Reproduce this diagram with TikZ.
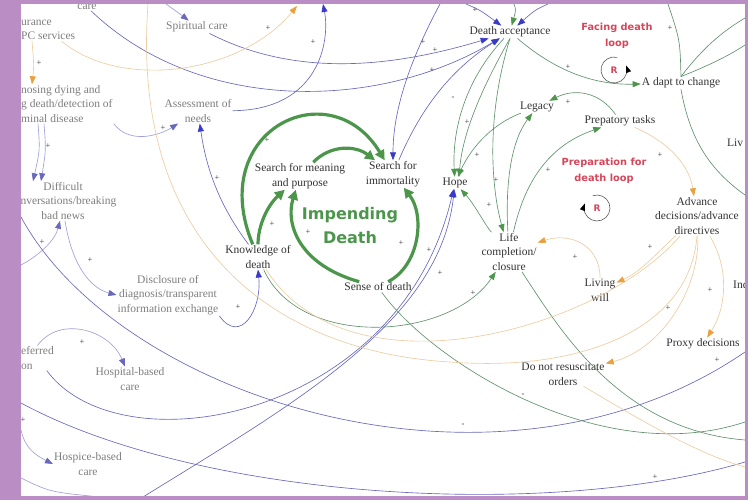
\documentclass[tikz,border=0pt]{standalone}
\usepackage{fontspec}
\setmainfont{Liberation Serif}
\newfontfamily\loopfont{DejaVu Sans}
\usepackage{xcolor}
\usetikzlibrary{arrows.meta}

\definecolor{framepurple}{RGB}{186,142,196}
\definecolor{loopgreen}{RGB}{76,150,76}
\definecolor{lgreen}{RGB}{96,146,108}
\definecolor{lblue}{RGB}{104,104,190}
\definecolor{fblue}{RGB}{160,160,218}
\definecolor{hblue}{RGB}{58,58,200}
\definecolor{orng}{RGB}{232,160,64}
\definecolor{ftan}{RGB}{236,204,160}
\definecolor{loopred}{RGB}{214,70,90}
\definecolor{txt}{RGB}{50,50,50}
\definecolor{ftxt}{RGB}{125,125,125}

\begin{document}
\begin{tikzpicture}[x=1pt,y=-1pt,
  lbl/.style={font=\fontsize{11.5}{14.5}\selectfont, text=txt, align=center, inner sep=1pt},
  flbl/.style={lbl, text=ftxt},
  loopl/.style={font=\loopfont\bfseries\fontsize{9.8}{15.5}\selectfont, text=loopred, align=center},
  impf/.style={font=\loopfont\bfseries\fontsize{16}{24}\selectfont, text=loopgreen, align=center},
  pm/.style={font=\fontsize{8.5}{8.5}\selectfont, text=black!80, inner sep=0pt},
  loopa/.style={draw=loopgreen, line width=3.2pt, -{Triangle[length=10pt,width=10pt]}},
  bl/.style={draw=lblue, line width=0.65pt, -{Triangle[length=8pt,width=6pt,color=hblue]}},
  blf/.style={draw=fblue, line width=0.65pt, -{Triangle[length=8pt,width=6pt,color=lblue]}},
  gr/.style={draw=lgreen, line width=0.65pt, -{Triangle[length=8pt,width=6pt,color=loopgreen]}},
  og/.style={draw=ftan, line width=0.65pt, -{Triangle[length=8pt,width=6pt,color=orng]}},
  ring/.style={draw=black!65, line width=0.6pt, -{Triangle[length=7pt,width=5pt,black]}}
]
\useasboundingbox (0,0) rectangle (748,500);

% nodes
\node[flbl] (careTop) at (87,7) {care};
\node[flbl,anchor=west,align=left] (insur) at (20,30) {urance\\PC services};
\node[flbl,anchor=west,align=left] (diag) at (20,104) {nosing dying and\\g death/detection of\\minal disease};
\node[flbl] (spirit) at (197,27) {Spiritual care};
\node[flbl] (assess) at (198,111) {Assessment of\\needs};
\node[flbl] (diffic) at (63,201) {Difficult\\conversations/breaking\\bad news};
\node[flbl] (disclose) at (168,295) {Disclosure of\\diagnosis/transparent\\information exchange};
\node[lbl] (knowl) at (258,257) {Knowledge of\\death};
\node[lbl] (smean) at (300,176) {Search for meaning\\and purpose};
\node[lbl] (simm) at (393,174) {Search for\\immortality};
\node[impf] (impend) at (350,226) {Impending\\Death};
\node[lbl] (sense) at (378,287) {Sense of death};
\node[lbl] (hope) at (455,183) {Hope};
\node[lbl] (deathacc) at (510,32) {Death acceptance};
\node[loopl] (facing) at (617,36) {Facing death\\loop};
\node[lbl] (adapt) at (681,83) {A dapt to change};
\node[lbl] (legacy) at (537,107) {Legacy};
\node[lbl] (prep) at (620,121) {Prepatory tasks};
\node[loopl] (prepl) at (604,171) {Preparation for\\death loop};
\node[lbl,anchor=west] (liv) at (726,143) {Liv};
\node[lbl] (advance) at (697,216) {Advance\\decisions/advance\\directives};
\node[lbl] (lifecomp) at (509,252) {Life\\completion/\\closure};
\node[lbl] (living) at (600,290) {Living\\will};
\node[lbl,anchor=west] (ind) at (732,285) {Ind};
\node[lbl] (proxy) at (703,344) {Proxy decisions};
\node[lbl] (dnr) at (563,374) {Do not resuscitate\\orders};
\node[flbl,anchor=west,align=left] (referred) at (20,358) {eferred\\on};
\node[flbl] (hospital) at (130,379) {Hospital-based\\care};
\node[flbl] (hospice) at (88,464) {Hospice-based\\care};

% free ends at the frame
\coordinate (spTop) at (166,4);
\coordinate (trialTop) at (323,4);
\coordinate (trialTopB) at (297,6);
\coordinate (immTop) at (440,4);
\coordinate (daTopA) at (466,4);
\coordinate (daTopB) at (548,4);
\coordinate (daTopC) at (514,4);
\coordinate (leftA) at (21,265);
\coordinate (leftB) at (21,430);
\coordinate (leftC) at (21,217);
\coordinate (leftD) at (21,403);
\coordinate (leftE) at (21,478);
\coordinate (botA) at (143,497);
\coordinate (botB) at (100,497);
\coordinate (leftTopO) at (148,4);
\coordinate (oBottom) at (450,362);
\coordinate (topG) at (668,4);
\coordinate (rightA) at (745,352);
\coordinate (rightB) at (745,462);
\coordinate (rightC) at (745,440);
\coordinate (rightD) at (745,422);
\coordinate (rightE) at (745,195);
\coordinate (rightF) at (745,18);
\coordinate (rightG) at (745,45);
\coordinate (rightH) at (745,467);

% impending death loop
\draw[loopa] (knowl) .. controls (205,130) and (330,70) .. (simm);
\draw[loopa] (knowl) .. controls (258,225) and (268,205) .. (smean);
\draw[loopa] (smean) .. controls (330,145) and (355,145) .. (simm);
\draw[loopa] (sense) .. controls (300,265) and (285,225) .. (smean);
\draw[loopa] (sense) .. controls (420,265) and (425,215) .. (simm);

% blue links
\draw[blf] (spTop) .. controls (175,10) .. (spirit);
\draw[bl] (spirit) .. controls (300,80) and (400,65) .. (deathacc);
\draw[bl] (careTop) .. controls (200,115) and (380,110) .. (deathacc);
\draw[bl] (assess) .. controls (320,110) and (330,40) .. (trialTop);
\draw[bl] (knowl) .. controls (215,200) and (205,160) .. (assess);
\draw[blf] (diag.south east) .. controls (130,145) and (160,135) .. (assess);
\draw[blf] ([xshift=18pt]diag.south west) .. controls (40,150) .. ([xshift=-30pt]diffic.north);
\draw[blf] ([xshift=24pt]diag.south west) .. controls (46,150) .. ([xshift=-22pt]diffic.north);
\draw[blf] (leftA) .. controls (40,255) and (55,240) .. ([xshift=-3pt]diffic.south);
\draw[blf] ([xshift=2pt]diffic.south) .. controls (72,265) and (90,288) .. (disclose.west);
\draw[bl] (disclose.south east) .. controls (240,345) and (262,310) .. (knowl.south);
\draw[bl] (immTop) .. controls (410,60) and (393,110) .. (simm);
\draw[bl] (simm) .. controls (420,110) and (450,70) .. (deathacc);
\draw[bl] (daTopA) .. controls (480,10) .. (deathacc);
\draw[bl] (daTopB) .. controls (535,10) .. (deathacc);
\draw[gr] (daTopC) .. controls (516,10) .. (deathacc);
\draw[blf] (referred.north) .. controls (60,315) and (110,330) .. (hospital);
\draw[blf] (leftB) .. controls (25,448) and (35,455) .. (hospice.west);
\draw[bl] (botA) .. controls (300,400) and (440,320) .. (hope);
\draw[bl] (referred) .. controls (120,470) and (400,420) .. (hope);
\draw[draw=lblue, line width=0.65pt] (leftC) .. controls (120,400) and (500,520) .. (rightA);
\draw[draw=lblue, line width=0.65pt] (leftD) .. controls (200,500) and (550,520) .. (rightB);
\draw[draw=fblue, line width=0.65pt] (leftE) .. controls (50,492) .. (botB);

% green links
\draw[gr] (deathacc) .. controls (465,80) and (452,130) .. (hope);
\draw[gr] (deathacc.south) .. controls (475,100) and (462,140) .. ([xshift=4pt]hope.north);
\draw[gr] (deathacc.south) .. controls (485,120) and (492,190) .. (lifecomp);
\draw[gr] (deathacc) .. controls (560,75) and (600,85) .. (adapt);
\draw[gr] (prep) .. controls (600,92) and (575,88) .. (legacy);
\draw[gr] (lifecomp) .. controls (505,180) and (512,140) .. (legacy);
\draw[gr] (lifecomp) .. controls (525,180) and (550,145) .. (prep);
\draw[gr] (lifecomp) .. controls (485,225) and (475,205) .. (hope);
\draw[gr] (legacy) .. controls (490,125) and (470,150) .. (hope);
\draw[gr] (knowl) .. controls (300,350) and (450,340) .. (lifecomp);
\draw[draw=lgreen, line width=0.65pt] (lifecomp) .. controls (560,330) and (620,430) .. (rightC);
\draw[draw=lgreen, line width=0.65pt] (sense) .. controls (430,360) and (600,470) .. (rightD);
\draw[draw=lgreen, line width=0.65pt] (topG) .. controls (680,40) .. (adapt.north);
\draw[draw=lgreen, line width=0.65pt] (adapt.north) .. controls (705,45) and (725,30) .. (rightF);
\draw[draw=lgreen, line width=0.65pt] (adapt.north) .. controls (710,65) and (730,55) .. (rightG);
\draw[draw=lgreen, line width=0.65pt] (adapt.south) .. controls (690,140) and (710,170) .. (rightE);

% orange links
\draw[og] (insur) .. controls (120,90) and (240,75) .. (trialTopB);
\draw[og] ([xshift=12pt]insur.south west) .. controls (34,65) .. ([xshift=12pt]diag.north west);
\draw[draw=ftan, line width=0.65pt] (advance.south) .. controls (690,330) and (580,372) .. (oBottom) .. controls (280,352) and (130,250) .. (leftTopO);
\draw[draw=ftan, line width=0.65pt] (advance) .. controls (600,330) and (350,400) .. (knowl);
\draw[og] (advance) .. controls (655,255) and (640,272) .. (living);
\draw[og] (advance) .. controls (700,290) and (660,350) .. (dnr);
\draw[og] (advance) .. controls (728,265) and (728,305) .. (proxy);
\draw[og] (living) .. controls (600,245) and (570,232) .. (lifecomp);
\draw[og] (prep) .. controls (675,145) and (690,170) .. (advance);
\draw[draw=ftan, line width=0.65pt] (dnr) .. controls (640,420) and (700,455) .. (rightH);

% loop symbols
\node[text=loopred, font=\loopfont\bfseries\fontsize{9}{9}\selectfont] (rFace) at (614,70) {R};
\draw[ring] (614,70) ++(-75:13) arc[start angle=-75, end angle=-380, radius=13];
\node[text=loopred, font=\loopfont\bfseries\fontsize{9}{9}\selectfont] (rPrep) at (597,208) {R};
\draw[ring] (597,208) ++(-110:13) arc[start angle=-110, end angle=200, radius=13];

% polarity marks
\foreach \p in {(39,63),(48,146),(163,128),(42,242),(90,260),(238,307),(82,342),(23,420),
  (268,28),(313,42),(423,42),(435,50),(432,70),(267,140),(467,122),(477,155),
  (217,178),(272,224),(308,232),(401,243),(429,250),(440,273),(473,293),(475,10),
  (568,67),(568,102),(660,155),(670,28),(548,170),(496,180),(489,205),(575,257),
  (650,247),(710,290),(668,308),(717,360),(655,477)}
  \node[pm] at \p {+};
\foreach \p in {(523,395),(463,425),(453,98)}
  \node[pm] at \p {-};

% frame
\fill[framepurple] (0,0) rectangle (21,500);
\fill[framepurple] (0,0) rectangle (748,4);
\fill[framepurple] (0,496) rectangle (748,500);
\fill[framepurple] (745,0) rectangle (748,500);
\end{tikzpicture}
\end{document}
